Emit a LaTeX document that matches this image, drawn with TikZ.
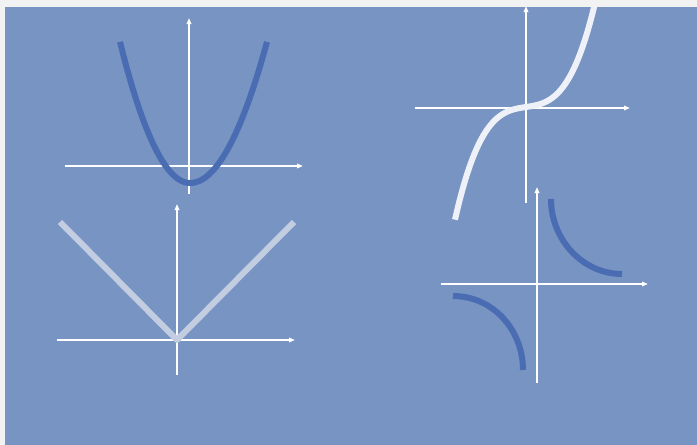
\documentclass[tikz,border=0pt]{standalone}
\usetikzlibrary{arrows.meta}
\definecolor{bgblue}{HTML}{7894C2}
\definecolor{edgegray}{HTML}{F2F2F2}
\definecolor{darkcurve}{HTML}{4A6CB3}
\definecolor{lightcurve}{HTML}{C3CDE2}
\definecolor{whitecurve}{HTML}{EEF1F7}
\tikzset{
  axis/.style={draw=white, line width=1.5pt, -{Triangle[length=6pt,width=4.5pt]}},
  curvedark/.style={draw=darkcurve, line width=6pt},
  curvelight/.style={draw=lightcurve, line width=6pt},
  curvewhite/.style={draw=whitecurve, line width=6pt},
}
\begin{document}
\begin{tikzpicture}[x=1pt,y=-1pt]
\useasboundingbox (0,0) rectangle (697,445);
\fill[edgegray] (0,0) rectangle (697,445);
\fill[bgblue] (5,7) rectangle (697,445);
\begin{scope}
\clip (5,7) rectangle (697,445);
% parabola
\draw[axis] (65,166) -- (303,166);
\draw[axis] (189,194) -- (189,18);
\draw[curvedark] plot[domain=-7:0, samples=40, smooth] ({190+10*\x},{183-2.88*\x*\x})
  -- plot[domain=0:7.7, samples=40, smooth] ({190+10*\x},{183-2.38*\x*\x});
% absolute value
\draw[axis] (57,340) -- (295,340);
\draw[axis] (177,375) -- (177,204);
\draw[curvelight, line join=round] (60,222) -- (177,340) -- (294,222);
% cubic
\draw[axis] (415,108) -- (630,108);
\draw[axis] (526,203) -- (526,6);
\draw[curvewhite] plot[domain=-7.1:7.0, samples=80, smooth] ({526+10*\x},{107-1.5*\x-0.285*\x*\x*\x});
% hyperbola
\draw[axis] (441,284) -- (648,284);
\draw[axis] (537,383) -- (537,187);
\draw[curvedark] (551,199) .. controls (551,240) and (583,274) .. (622,274);
\draw[curvedark] (453,296) .. controls (493,296) and (523,330) .. (523,370);
\end{scope}
\end{tikzpicture}
\end{document}
